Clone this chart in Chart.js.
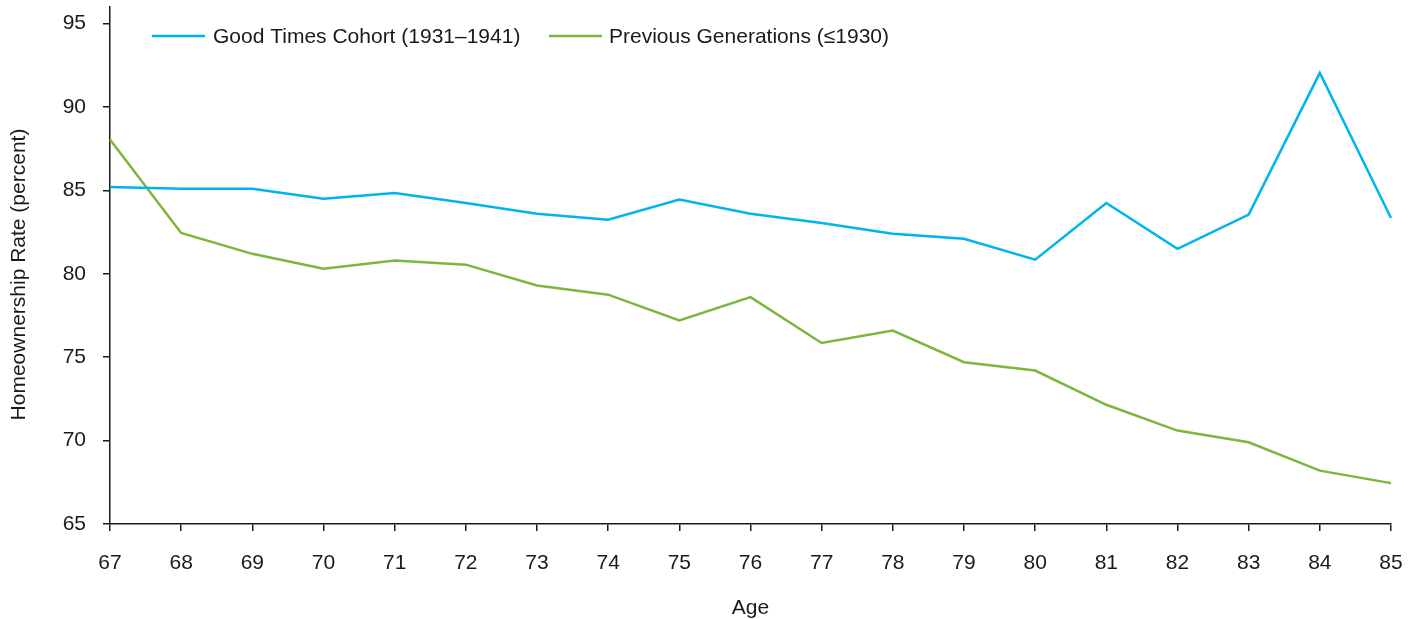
<!DOCTYPE html>
<html>
<head>
<meta charset="utf-8">
<script src="https://cdn.jsdelivr.net/npm/chart.js@4"></script>
<style>
  html, body { margin: 0; padding: 0; background: #fff; }
  #wrap { width: 1419px; height: 619px; }
</style>
</head>
<body>
<div id="wrap"><canvas id="lineChart"></canvas></div>
<script>
const ages = ['67','68','69','70','71','72','73','74','75','76','77','78','79','80','81','82','83','84','85'];
const goodTimes = [85.2, 85.1, 85.1, 84.5, 84.85, 84.25, 83.6, 83.25, 84.45, 83.6, 83.05, 82.4, 82.1, 80.85, 84.25, 81.5, 83.55, 92.05, 83.35];
const previousGens = [88.05, 82.45, 81.2, 80.3, 80.8, 80.55, 79.3, 78.75, 77.2, 78.6, 75.85, 76.6, 74.7, 74.2, 72.15, 70.6, 69.9, 68.2, 67.45];
const yTicks = [65, 70, 75, 80, 85, 90, 95];
const yTitle = 'Homeownership Rate (percent)';

const textColor = '#1a1a1a';
const fontFamily = '"Liberation Sans", Arial, Helvetica, sans-serif';
const fontSize = 21;

// legend inside the plot + y title, at fixed offsets from the chart area
const insideLegend = {
    id: 'insideLegend',
    afterDraw(chart) {
        const ctx = chart.ctx;
        const area = chart.chartArea;
        const items = [
            { lineX: 42, textX: 103, label: 'Good Times Cohort (1931\u20131941)', ds: 0 },
            { lineX: 439, textX: 499, label: 'Previous Generations (\u22641930)', ds: 1 },
        ];
        const y = area.top + 29;
        ctx.save();
        ctx.font = fontSize + 'px ' + fontFamily;
        ctx.textBaseline = 'middle';
        ctx.fillStyle = textColor;
        items.forEach(it => {
            const x0 = area.left + it.lineX;
            ctx.strokeStyle = chart.data.datasets[it.ds].borderColor;
            ctx.lineWidth = 2.5;
            ctx.beginPath();
            ctx.moveTo(x0, y);
            ctx.lineTo(x0 + 53, y);
            ctx.stroke();
            ctx.fillText(it.label, area.left + it.textX, y + 1);
        });

        // y axis title, sits a bit below the middle of the axis
        ctx.translate(19, (area.top + area.bottom) / 2 + 9);
        ctx.rotate(-Math.PI / 2);
        ctx.textAlign = 'center';
        ctx.fillText(yTitle, 0, 0);
        ctx.restore();
    }
};

new Chart(document.getElementById('lineChart'), {
    type: 'line',
    data: {
        labels: ages,
        datasets: [
            {
                label: 'Good Times Cohort (1931\u20131941)',
                data: goodTimes,
                borderColor: '#00b4ee',
                backgroundColor: '#00b4ee',
                borderWidth: 2.5,
                pointRadius: 0,
                tension: 0,
            },
            {
                label: 'Previous Generations (\u22641930)',
                data: previousGens,
                borderColor: '#7cb73b',
                backgroundColor: '#7cb73b',
                borderWidth: 2.5,
                pointRadius: 0,
                tension: 0,
            },
        ]
    },
    options: {
        responsive: true,
        maintainAspectRatio: false,
        animation: false,
        layout: { padding: { top: 7, right: 28, left: 0, bottom: 0 } },
        plugins: {
            legend: { display: false },
            tooltip: { enabled: false },
        },
        scales: {
            x: {
                offset: false,
                afterFit: axis => { axis.height = 95; axis.paddingLeft = 0; axis.paddingRight = 0; },
                grid: { drawOnChartArea: false, drawTicks: true, tickLength: 7, color: textColor, lineWidth: 1.5 },
                border: { display: true, color: textColor, width: 1.5 },
                ticks: { color: textColor, padding: 20, maxRotation: 0, autoSkip: false, font: { size: fontSize, family: fontFamily } },
                title: { display: true, text: 'Age', color: textColor, padding: { top: 10, bottom: 0 }, font: { size: fontSize, family: fontFamily, lineHeight: 1 } },
            },
            y: {
                min: 65,
                max: 96,
                afterBuildTicks: axis => { axis.ticks = yTicks.map(v => ({ value: v })); },
                afterFit: axis => { axis.width = 110; axis.paddingTop = 0; axis.paddingBottom = 0; },
                grid: { drawOnChartArea: false, drawTicks: true, tickLength: 7, color: textColor, lineWidth: 1.5 },
                border: { display: true, color: textColor, width: 1.5 },
                ticks: { color: textColor, padding: 17, font: { size: fontSize, family: fontFamily } },
                title: { display: false },
            }
        }
    },
    plugins: [insideLegend]
});
</script>
</body>
</html>
